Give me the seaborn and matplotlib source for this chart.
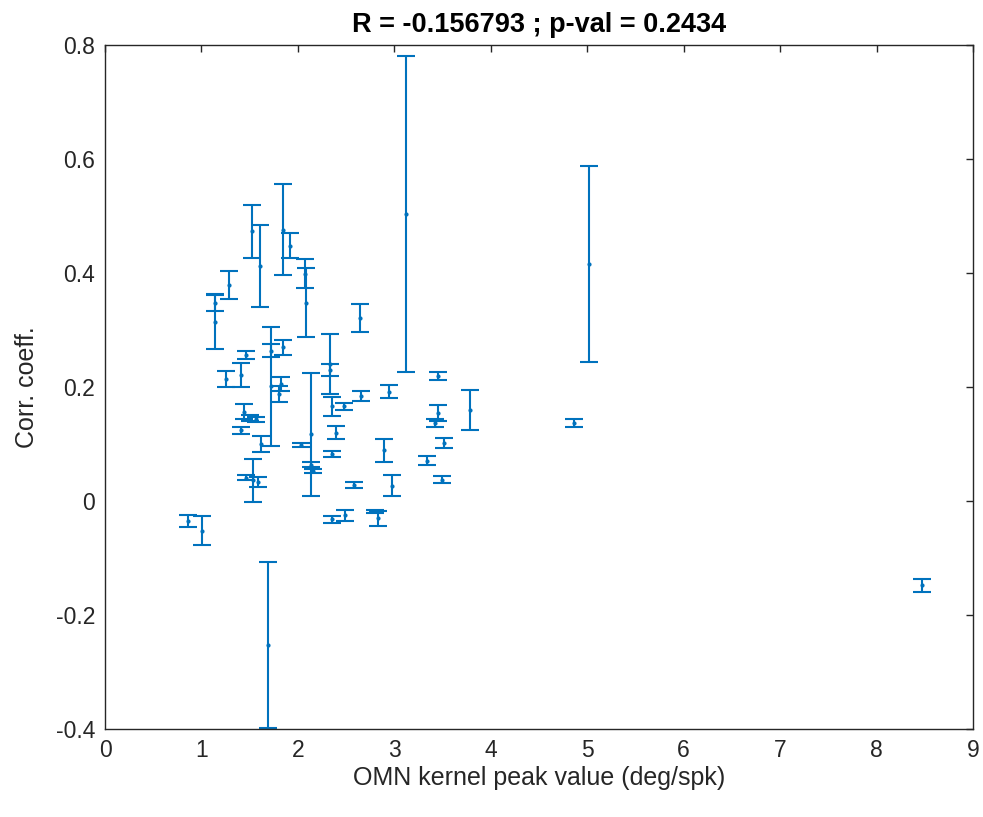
import numpy as np
import pandas as pd
import matplotlib
matplotlib.use("Agg")
import matplotlib.pyplot as plt
import seaborn as sns

# Data (x = kernel peak, y = corr coeff, e = error half-width)
peak = [0.86, 1.01, 1.145, 1.145, 1.29, 1.25, 1.405, 1.46, 1.52, 1.605,
        1.72, 1.72, 1.845, 1.847, 1.914, 1.82, 1.80, 2.07, 2.08, 1.44,
        1.50, 1.57, 1.415, 1.62, 1.536, 1.457, 1.59, 2.138, 2.03, 2.14,
        2.16, 2.33, 2.33, 2.35, 2.48, 2.39, 2.35, 2.65, 2.945, 2.893,
        2.98, 2.58, 2.356, 2.49, 2.80, 2.83, 3.118, 5.02, 3.45, 3.45,
        3.42, 3.516, 3.343, 3.49, 3.783, 1.689, 2.64, 4.86, 8.47]
corr = [-0.035, -0.052, 0.348, 0.314, 0.379, 0.214, 0.221, 0.257, 0.473, 0.412,
        0.201, 0.264, 0.270, 0.476, 0.448, 0.205, 0.188, 0.399, 0.348, 0.157,
        0.146, 0.143, 0.124, 0.100, 0.036, 0.041, 0.033, 0.117, 0.098, 0.064,
        0.053, 0.240, 0.230, 0.166, 0.166, 0.120, 0.083, 0.184, 0.192, 0.089,
        0.027, 0.028, -0.032, -0.025, -0.018, -0.030, 0.504, 0.416, 0.220, 0.154,
        0.136, 0.102, 0.071, 0.037, 0.160, -0.253, 0.321, 0.136, -0.148]
err = [0.010, 0.026, 0.015, 0.047, 0.024, 0.014, 0.021, 0.007, 0.046, 0.072,
       0.104, 0.011, 0.013, 0.080, 0.022, 0.012, 0.014, 0.025, 0.061, 0.014,
       0.005, 0.004, 0.006, 0.014, 0.037, 0.004, 0.009, 0.108, 0.004, 0.004,
       0.004, 0.053, 0.010, 0.016, 0.006, 0.012, 0.005, 0.009, 0.012, 0.020,
       0.018, 0.006, 0.006, 0.010, 0.003, 0.013, 0.277, 0.172, 0.007, 0.014,
       0.007, 0.009, 0.008, 0.006, 0.035, 0.146, 0.024, 0.007, 0.012]

xticks = list(range(0, 10))
yticks = [-0.4, -0.2, 0, 0.2, 0.4, 0.6, 0.8]
yticklabels = ["-0.4", "-0.2", "0", "0.2", "0.4", "0.6", "0.8"]

df = pd.DataFrame({"peak": peak, "corr": corr, "err": err})

sns.set_style("white")
plt.rcParams['font.family'] = ['Liberation Sans', 'DejaVu Sans']

blue = "#0072BD"
dark = "#262626"

fig = plt.figure(figsize=(9.83, 8.17), dpi=100)
ax = fig.add_axes([105 / 983, 88 / 817, 868 / 983, 684 / 817])

ax.errorbar(df["peak"], df["corr"], yerr=df["err"], fmt="none",
            ecolor=blue, elinewidth=1.5, capsize=6.2, capthick=1.5, zorder=2)
sns.scatterplot(data=df, x="peak", y="corr", ax=ax, color=blue, s=9,
                linewidth=0, zorder=3, legend=False)

ax.set_xlim(0, 9)
ax.set_ylim(-0.4, 0.8)
ax.set_xticks(xticks)
ax.set_xticklabels([str(t) for t in xticks])
ax.set_yticks(yticks)
ax.set_yticklabels(yticklabels)

for s in ax.spines.values():
    s.set_color(dark)
    s.set_linewidth(1.0)
    s.set_visible(True)

ax.tick_params(axis="both", which="both", direction="in", length=5,
               width=1.0, color=dark, labelcolor=dark, labelsize=16.5,
               top=True, right=True, pad=7)

ax.set_xlabel("OMN kernel peak value (deg/spk)", fontsize=18, color=dark, labelpad=3)
ax.set_ylabel("Corr. coeff.", fontsize=18, color=dark, labelpad=12)
ax.set_title("R = -0.156793 ; p-val = 0.2434", fontsize=19.5, fontweight="bold",
             color="black", pad=9)

fig.savefig("out.png", dpi=100, facecolor="white")
